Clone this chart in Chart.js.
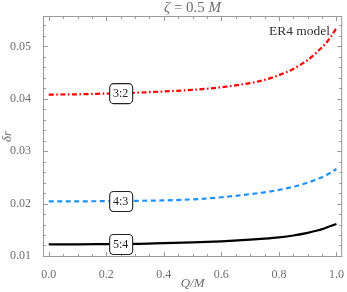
<!DOCTYPE html>
<html>
<head>
<meta charset="utf-8">
<script src="https://cdn.jsdelivr.net/npm/chart.js@4"></script>
<style>
  html, body { margin: 0; padding: 0; background: #fff; }
  #wrap { width: 347px; height: 292px; }
</style>
</head>
<body>
<div id="wrap"><canvas id="chart"></canvas></div>
<script>
// Q/M samples and the three resonance curves
const qValues = [0, 0.1, 0.2, 0.3, 0.4, 0.5, 0.6, 0.7, 0.75, 0.8, 0.85, 0.9, 0.93, 0.96, 0.98, 1.0];
const dr32 = [0.0408, 0.04085, 0.0410, 0.04115, 0.0414, 0.0417, 0.0422, 0.0430, 0.0436, 0.0445, 0.0457, 0.0474, 0.0488, 0.0504, 0.0518, 0.0535];
const dr43 = [0.0204, 0.02042, 0.02046, 0.02052, 0.0206, 0.0208, 0.0212, 0.0218, 0.02215, 0.0226, 0.0232, 0.0240, 0.0246, 0.0253, 0.0259, 0.0266];
const dr54 = [0.0122, 0.01222, 0.01226, 0.0123, 0.01245, 0.0126, 0.0128, 0.0131, 0.0133, 0.01355, 0.0139, 0.0144, 0.0148, 0.0153, 0.0157, 0.0161];
const curveNames = ['3:2', '4:3', '5:4'];
const xTickValues = [0, 0.2, 0.4, 0.6, 0.8, 1.0];
const yTickValues = [0.01, 0.02, 0.03, 0.04, 0.05];

const labelQ = 0.25;
const grey = '#6e6e6e';
const serif = '"Liberation Serif", "DejaVu Serif", serif';

function pts(arr) {
    return qValues.map((q, i) => ({x: q, y: arr[i]}));
}

function valueAt(arr, q) {
    for (let i = 1; i < qValues.length; i++) {
        if (q <= qValues[i]) {
            const t = (q - qValues[i - 1]) / (qValues[i] - qValues[i - 1]);
            return arr[i - 1] + t * (arr[i] - arr[i - 1]);
        }
    }
    return arr[arr.length - 1];
}

// frame with inward ticks, curve labels, title and axis titles
const decorations = {
    id: 'decorations',
    afterDatasetsDraw(chart) {
        const ctx = chart.ctx;
        const a = chart.chartArea;
        const xs = chart.scales.x;
        const ys = chart.scales.y;
        ctx.save();

        // frame
        ctx.strokeStyle = '#9a9a9a';
        ctx.lineWidth = 1;
        ctx.strokeRect(a.left + 0.5, a.top + 0.5, a.right - a.left - 1, a.bottom - a.top - 1);

        // ticks
        ctx.beginPath();
        for (let k = 0; k <= 20; k++) {
            const v = k * 0.05;
            const len = (k % 4 === 0) ? 5 : 3;
            const px = Math.round(xs.getPixelForValue(v)) + 0.5;
            ctx.moveTo(px, a.bottom); ctx.lineTo(px, a.bottom - len);
            ctx.moveTo(px, a.top); ctx.lineTo(px, a.top + len);
        }
        for (let k = 0; k <= 23; k++) {
            const v = 0.01 + k * 0.002;
            if (v > ys.max) break;
            const len = (k % 5 === 0) ? 5 : 3;
            const py = Math.round(ys.getPixelForValue(v)) + 0.5;
            ctx.moveTo(a.left, py); ctx.lineTo(a.left + len, py);
            ctx.moveTo(a.right, py); ctx.lineTo(a.right - len, py);
        }
        ctx.stroke();

        // curve labels
        [dr32, dr43, dr54].forEach((arr, i) => {
            const cx = xs.getPixelForValue(labelQ);
            const cy = ys.getPixelForValue(valueAt(arr, labelQ));
            const w = 23, h = 20, r = 4;
            ctx.beginPath();
            ctx.roundRect(cx - w / 2 + 0.5, cy - h / 2 + 0.5, w, h, r);
            ctx.fillStyle = '#fff';
            ctx.fill();
            ctx.strokeStyle = '#222';
            ctx.lineWidth = 1.1;
            ctx.stroke();
            ctx.fillStyle = '#222';
            ctx.font = '12px ' + serif;
            ctx.textAlign = 'center';
            ctx.textBaseline = 'middle';
            ctx.fillText(curveNames[i], cx, cy + 1);
        });

        // model name
        ctx.fillStyle = '#333';
        ctx.font = '13.5px ' + serif;
        ctx.textAlign = 'right';
        ctx.textBaseline = 'middle';
        ctx.fillText('ER4 model', 330, 31);

        // title: ζ = 0.5 M
        const mid = (a.left + a.right) / 2;
        const parts = [['ζ', 'italic '], [' = 0.5 ', ''], ['M', 'italic ']];
        ctx.fillStyle = grey;
        ctx.textBaseline = 'middle';
        ctx.textAlign = 'left';
        let total = 0;
        parts.forEach(p => { ctx.font = p[1] + '15px ' + serif; total += ctx.measureText(p[0]).width; });
        let x0 = mid - total / 2;
        parts.forEach(p => {
            ctx.font = p[1] + '15px ' + serif;
            ctx.fillText(p[0], x0, 8);
            x0 += ctx.measureText(p[0]).width;
        });

        // axis titles
        ctx.font = 'italic 13px ' + serif;
        ctx.textAlign = 'center';
        ctx.fillText('Q/M', mid, 284);
        ctx.save();
        ctx.translate(8, (a.top + a.bottom) / 2);
        ctx.rotate(-Math.PI / 2);
        ctx.fillText('δr', 0, 0);
        ctx.restore();

        ctx.restore();
    }
};

const chart = new Chart(document.getElementById('chart').getContext('2d'), {
    type: 'line',
    data: {
        datasets: [
            {
                label: curveNames[0],
                data: pts(dr32),
                borderColor: '#ff0000',
                borderWidth: 2.2,
                borderDash: [5, 2.5, 1.6, 2.5],
                pointRadius: 0,
                cubicInterpolationMode: 'monotone'
            },
            {
                label: curveNames[1],
                data: pts(dr43),
                borderColor: '#1e90ff',
                borderWidth: 2.2,
                borderDash: [5, 3.5],
                pointRadius: 0,
                cubicInterpolationMode: 'monotone'
            },
            {
                label: curveNames[2],
                data: pts(dr54),
                borderColor: '#000000',
                borderWidth: 2.2,
                pointRadius: 0,
                cubicInterpolationMode: 'monotone'
            }
        ]
    },
    options: {
        responsive: true,
        maintainAspectRatio: false,
        animation: false,
        events: [],
        layout: {padding: {top: 16, right: 3, left: 0, bottom: 0}},
        plugins: {legend: {display: false}, tooltip: {enabled: false}, title: {display: false}},
        scales: {
            x: {
                type: 'linear',
                min: -0.02,
                max: 1.02,
                grid: {display: false},
                border: {display: false},
                afterBuildTicks: s => { s.ticks = xTickValues.map(v => ({value: v})); },
                afterFit: s => { s.height = 35; },
                ticks: {
                    padding: 3,
                    color: grey,
                    font: {family: serif, size: 12},
                    callback: v => v.toFixed(1)
                }
            },
            y: {
                type: 'linear',
                min: 0.0098,
                max: 0.0558,
                grid: {display: false},
                border: {display: false},
                afterBuildTicks: s => { s.ticks = yTickValues.map(v => ({value: v})); },
                afterFit: s => { s.width = 43; },
                ticks: {
                    padding: 4,
                    color: grey,
                    font: {family: serif, size: 12},
                    callback: v => v.toFixed(2)
                }
            }
        }
    },
    plugins: [decorations]
});
</script>
</body>
</html>
